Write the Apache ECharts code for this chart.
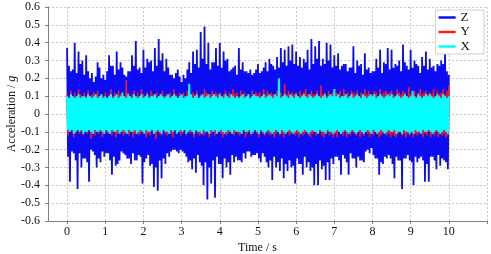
<!DOCTYPE html>
<html>
<head>
<meta charset="utf-8">
<script src="https://cdn.jsdelivr.net/npm/echarts@6/dist/echarts.min.js"></script>
<style>
  html, body { margin: 0; padding: 0; background: #fff; }
  #chart { width: 491px; height: 254px; }
</style>
</head>
<body>
<div id="chart"></div>
<script>
// sampling step of the record (s)
const dt = 0.025;

// Z axis acceleration (g)
const zAcc = [
  0.37,-0.24,0.27,-0.38, 0.24,-0.21,0.25,-0.22, 0.40,-0.26,0.23,-0.42, 0.35,-0.22,0.28,-0.30, 0.30,-0.25,0.22,-0.25,
  0.33,-0.27,0.24,-0.38, 0.20,-0.20,0.23,-0.21, 0.18,-0.23,0.21,-0.30, 0.29,-0.25,0.26,-0.27, 0.20,-0.21,0.22,-0.24,
  0.19,-0.22,0.24,-0.22, 0.33,-0.26,0.27,-0.34, 0.27,-0.24,0.22,-0.29, 0.35,-0.28,0.25,-0.26, 0.29,-0.21,0.26,-0.22,
  0.22,-0.23,0.21,-0.25, 0.24,-0.25,0.24,-0.28, 0.33,-0.22,0.27,-0.26, 0.41,-0.26,0.25,-0.23, 0.26,-0.24,0.23,-0.39,
  0.36,-0.27,0.26,-0.25, 0.31,-0.23,0.29,-0.29, 0.30,-0.28,0.24,-0.41, 0.37,-0.30,0.27,-0.43, 0.42,-0.26,0.30,-0.36,
  0.34,-0.25,0.24,-0.28, 0.31,-0.22,0.26,-0.24, 0.22,-0.21,0.22,-0.20, 0.20,-0.20,0.23,-0.21, 0.25,-0.22,0.21,-0.20,
  0.18,-0.21,0.22,-0.22, 0.20,-0.24,0.25,-0.27, 0.29,-0.26,0.23,-0.31, 0.35,-0.25,0.28,-0.33, 0.36,-0.23,0.26,-0.27,
  0.46,-0.29,0.31,-0.40, 0.49,-0.27,0.28,-0.48, 0.40,-0.30,0.25,-0.39, 0.29,-0.26,0.29,-0.47, 0.37,-0.24,0.27,-0.28,
  0.40,-0.28,0.26,-0.36, 0.35,-0.25,0.30,-0.30, 0.31,-0.27,0.24,-0.34, 0.25,-0.23,0.26,-0.27, 0.27,-0.24,0.22,-0.26,
  0.37,-0.26,0.25,-0.27, 0.29,-0.22,0.24,-0.25, 0.24,-0.21,0.23,-0.21, 0.25,-0.24,0.22,-0.23, 0.23,-0.23,0.25,-0.22,
  0.28,-0.25,0.23,-0.27, 0.24,-0.22,0.26,-0.24, 0.29,-0.27,0.24,-0.30, 0.31,-0.26,0.28,-0.37, 0.27,-0.24,0.25,-0.30,
  0.32,-0.27,0.26,-0.32, 0.37,-0.25,0.29,-0.36, 0.36,-0.28,0.27,-0.32, 0.38,-0.26,0.30,-0.30, 0.39,-0.29,0.28,-0.39,
  0.35,-0.25,0.27,-0.28, 0.32,-0.28,0.26,-0.34, 0.31,-0.24,0.29,-0.30, 0.36,-0.27,0.25,-0.32, 0.42,-0.30,0.28,-0.40,
  0.38,-0.28,0.31,-0.40, 0.41,-0.26,0.27,-0.31, 0.31,-0.29,0.28,-0.37, 0.40,-0.27,0.30,-0.37, 0.39,-0.25,0.26,-0.28,
  0.33,-0.24,0.27,-0.24, 0.34,-0.26,0.25,-0.34, 0.27,-0.23,0.28,-0.25, 0.28,-0.27,0.24,-0.34, 0.26,-0.22,0.26,-0.25,
  0.38,-0.25,0.23,-0.30, 0.30,-0.24,0.27,-0.26, 0.28,-0.26,0.22,-0.27, 0.34,-0.21,0.25,-0.20, 0.26,-0.22,0.23,-0.19,
  0.24,-0.23,0.24,-0.25, 0.31,-0.25,0.26,-0.34, 0.36,-0.27,0.23,-0.28, 0.29,-0.24,0.28,-0.25, 0.37,-0.23,0.25,-0.25,
  0.36,-0.28,0.26,-0.36, 0.28,-0.24,0.27,-0.26, 0.30,-0.26,0.24,-0.42, 0.39,-0.25,0.29,-0.25, 0.27,-0.23,0.25,-0.26,
  0.36,-0.27,0.26,-0.40, 0.30,-0.24,0.28,-0.27, 0.27,-0.25,0.23,-0.24, 0.32,-0.26,0.27,-0.38, 0.35,-0.28,0.25,-0.38,
  0.31,-0.24,0.26,-0.24, 0.27,-0.26,0.24,-0.31, 0.28,-0.23,0.27,-0.29, 0.30,-0.25,0.28,-0.26, 0.35,-0.27,0.24,-0.31,
  0.22
];

// Y axis acceleration (g)
const yAcc = [
  0.11,-0.12,0.09,-0.10,0.13,-0.09,0.10,-0.13,0.12,-0.11,0.09,-0.08,0.14,-0.11,0.11,-0.10,0.08,-0.12,0.12,-0.09,
  0.10,-0.11,0.13,-0.09,0.09,-0.14,0.11,-0.10,0.12,-0.12,0.10,-0.09,0.13,-0.11,0.08,-0.10,0.11,-0.13,0.10,-0.11,
  0.12,-0.09,0.09,-0.11,0.11,-0.10,0.14,-0.12,0.10,-0.09,0.12,-0.13,0.09,-0.11,0.13,-0.10,0.11,-0.09,0.10,-0.12,
  0.09,-0.11,0.19,-0.10,0.12,-0.12,0.10,-0.09,0.11,-0.13,0.13,-0.11,0.09,-0.10,0.12,-0.12,0.10,-0.11,0.14,-0.09,
  0.11,-0.10,0.09,-0.13,0.12,-0.11,0.10,-0.12,0.13,-0.09,0.11,-0.11,0.09,-0.14,0.12,-0.10,0.10,-0.11,0.11,-0.12,
  0.13,-0.09,0.10,-0.11,0.11,-0.12,0.09,-0.10,0.12,-0.11,0.10,-0.13,0.14,-0.09,0.11,-0.11,0.09,-0.10,0.12,-0.12,
  0.10,-0.11,0.12,-0.09,0.09,-0.12,0.13,-0.10,0.11,-0.11,0.10,-0.09,0.12,-0.13,0.11,-0.10,0.13,-0.11,0.09,-0.12,
  0.11,-0.10,0.10,-0.12,0.14,-0.11,0.12,-0.09,0.10,-0.13,0.11,-0.11,0.13,-0.10,0.09,-0.12,0.12,-0.11,0.11,-0.09,
  0.12,-0.11,0.10,-0.13,0.11,-0.10,0.13,-0.12,0.09,-0.11,0.12,-0.09,0.10,-0.11,0.14,-0.12,0.11,-0.10,0.12,-0.11,
  0.10,-0.12,0.13,-0.11,0.11,-0.09,0.12,-0.13,0.10,-0.11,0.11,-0.10,0.09,-0.12,0.13,-0.11,0.10,-0.09,0.12,-0.11,
  0.11,-0.13,0.12,-0.10,0.10,-0.11,0.14,-0.12,0.11,-0.09,0.13,-0.11,0.10,-0.12,0.12,-0.10,0.11,-0.13,0.09,-0.11,
  0.13,-0.10,0.11,-0.12,0.12,-0.11,0.10,-0.13,0.17,-0.11,0.11,-0.10,0.13,-0.12,0.10,-0.11,0.12,-0.09,0.11,-0.12,
  0.12,-0.11,0.10,-0.13,0.13,-0.10,0.11,-0.12,0.12,-0.11,0.14,-0.10,0.11,-0.12,0.10,-0.13,0.13,-0.11,0.11,-0.10,
  0.11,-0.12,0.13,-0.11,0.10,-0.10,0.16,-0.12,0.11,-0.13,0.12,-0.11,0.10,-0.10,0.13,-0.12,0.11,-0.11,0.12,-0.13,
  0.10,-0.11,0.12,-0.13,0.11,-0.10,0.13,-0.11,0.10,-0.12,0.14,-0.10,0.11,-0.13,0.12,-0.11,0.10,-0.12,0.13,-0.10,
  0.12,-0.11,0.11,-0.12,0.13,-0.10,0.10,-0.13,0.12,-0.11,0.11,-0.12,0.14,-0.10,0.11,-0.11,0.13,-0.13,0.10,-0.11,
  0.11,-0.12,0.13,-0.10,0.12,-0.11,0.10,-0.13,0.14,-0.12,0.11,-0.11,0.12,-0.10,0.13,-0.12,0.10,-0.11,0.12,-0.13,
  0.13,-0.11,0.11,-0.12,0.10,-0.13,0.14,-0.11,0.12,-0.10,0.11,-0.12,0.13,-0.11,0.12,-0.13,0.10,-0.11,0.15,-0.12,
  0.11,-0.10,0.12,-0.13,0.13,-0.11,0.10,-0.12,0.12,-0.11,0.14,-0.10,0.11,-0.13,0.12,-0.11,0.13,-0.12,0.11,-0.10,
  0.12,-0.13,0.11,-0.11,0.14,-0.12,0.10,-0.10,0.13,-0.13,0.11,-0.11,0.12,-0.12,0.14,-0.11,0.11,-0.13,0.13,-0.12,
  0.16
];

// X axis acceleration (g)
const xAcc = [
  0.10,-0.09,0.09,-0.10,0.11,-0.09,0.10,-0.11,0.09,-0.10,0.10,-0.09,0.11,-0.10,0.09,-0.09,0.10,-0.11,0.10,-0.10,
  0.09,-0.10,0.11,-0.09,0.10,-0.10,0.09,-0.11,0.10,-0.09,0.11,-0.10,0.09,-0.10,0.10,-0.09,0.11,-0.10,0.09,-0.11,
  0.10,-0.09,0.09,-0.10,0.10,-0.11,0.11,-0.09,0.09,-0.10,0.10,-0.10,0.11,-0.09,0.09,-0.11,0.10,-0.10,0.12,-0.09,
  0.10,-0.10,0.09,-0.11,0.11,-0.09,0.10,-0.10,0.09,-0.10,0.11,-0.09,0.10,-0.11,0.09,-0.10,0.10,-0.09,0.11,-0.10,
  0.09,-0.11,0.10,-0.09,0.11,-0.10,0.09,-0.10,0.10,-0.09,0.10,-0.11,0.11,-0.10,0.09,-0.09,0.10,-0.10,0.11,-0.11,
  0.10,-0.09,0.09,-0.10,0.10,-0.10,0.11,-0.11,0.09,-0.09,0.10,-0.10,0.11,-0.09,0.10,-0.11,0.09,-0.10,0.10,-0.09,
  0.11,-0.10,0.09,-0.09,0.10,-0.11,0.10,-0.10,0.17,-0.09,0.11,-0.10,0.09,-0.11,0.10,-0.09,0.11,-0.10,0.09,-0.10,
  0.10,-0.11,0.11,-0.09,0.09,-0.10,0.10,-0.10,0.11,-0.11,0.09,-0.09,0.10,-0.10,0.11,-0.09,0.10,-0.11,0.09,-0.10,
  0.11,-0.09,0.10,-0.10,0.09,-0.11,0.11,-0.10,0.10,-0.09,0.09,-0.10,0.11,-0.11,0.10,-0.09,0.09,-0.10,0.10,-0.10,
  0.09,-0.10,0.10,-0.11,0.11,-0.09,0.09,-0.10,0.10,-0.10,0.11,-0.09,0.09,-0.11,0.10,-0.10,0.11,-0.09,0.10,-0.10,
  0.10,-0.11,0.09,-0.09,0.10,-0.10,0.11,-0.11,0.09,-0.10,0.10,-0.09,0.11,-0.10,0.10,-0.11,0.09,-0.10,0.11,-0.09,
  0.10,-0.10,0.20,-0.11,0.09,-0.09,0.10,-0.10,0.11,-0.11,0.10,-0.10,0.09,-0.09,0.11,-0.10,0.10,-0.11,0.09,-0.10,
  0.11,-0.09,0.10,-0.10,0.09,-0.11,0.10,-0.10,0.11,-0.09,0.10,-0.10,0.09,-0.11,0.11,-0.10,0.10,-0.09,0.09,-0.10,
  0.10,-0.10,0.11,-0.11,0.10,-0.09,0.09,-0.10,0.10,-0.10,0.11,-0.11,0.09,-0.09,0.10,-0.10,0.11,-0.10,0.10,-0.11,
  0.14,-0.10,0.10,-0.09,0.11,-0.10,0.09,-0.11,0.10,-0.10,0.10,-0.09,0.11,-0.10,0.09,-0.11,0.10,-0.10,0.11,-0.09,
  0.09,-0.10,0.10,-0.11,0.11,-0.10,0.10,-0.09,0.09,-0.10,0.11,-0.11,0.10,-0.10,0.09,-0.09,0.10,-0.10,0.11,-0.11,
  0.10,-0.09,0.11,-0.10,0.09,-0.11,0.10,-0.10,0.11,-0.09,0.10,-0.10,0.09,-0.11,0.10,-0.10,0.11,-0.09,0.10,-0.10,
  0.11,-0.10,0.09,-0.09,0.10,-0.11,0.11,-0.10,0.10,-0.10,0.09,-0.11,0.10,-0.09,0.11,-0.10,0.10,-0.10,0.09,-0.11,
  0.10,-0.10,0.13,-0.11,0.10,-0.09,0.09,-0.10,0.11,-0.10,0.10,-0.11,0.09,-0.09,0.10,-0.10,0.11,-0.10,0.10,-0.09,
  0.11,-0.10,0.10,-0.11,0.09,-0.10,0.10,-0.09,0.11,-0.10,0.10,-0.11,0.09,-0.10,0.11,-0.09,0.10,-0.10,0.09,-0.11,
  0.10
];

const xTickValues = [0, 1, 2, 3, 4, 5, 6, 7, 8, 9, 10, 11];
const xLabelValues = [0, 1, 2, 3, 4, 5, 6, 7, 8, 9, 10];

const serif = 'Liberation Serif, Times New Roman, serif';

// [time, value] pairs for the value x axis
const withTime = (arr) => arr.map((v, i) => [Number((i * dt).toFixed(3)), v]);

const myChart = echarts.init(document.getElementById('chart'), null, { renderer: 'canvas' });

const lineSeries = (name, data, color, width) => ({
  name: name,
  type: 'line',
  data: withTime(data),
  showSymbol: false,
  symbol: 'none',
  animation: false,
  lineStyle: { color: color, width: width },
  itemStyle: { color: color },
});

const option = {
  animation: false,
  backgroundColor: '#fff',
  grid: {
    left: 48,
    right: 4,
    top: 7,
    bottom: 33,
    containLabel: false,
    outerBoundsMode: 'none',
  },
  legend: {
    data: ['Z', 'Y', 'X'],
    orient: 'vertical',
    right: 7,
    top: 10,
    icon: 'rect',
    itemWidth: 17,
    itemHeight: 2.5,
    itemGap: 1.5,
    itemTextGap: 9,
    padding: [1, 14, 1, 3],
    backgroundColor: '#fff',
    borderColor: '#d0d0d0',
    borderWidth: 1,
    borderRadius: 0,
    textStyle: { fontFamily: serif, fontSize: 13, color: '#111', lineHeight: 12 },
  },
  xAxis: {
    type: 'value',
    min: -0.5,
    max: 11,
    name: 'Time / s',
    nameLocation: 'middle',
    nameGap: 21,
    nameMoveOverlap: false,
    nameTextStyle: { fontFamily: serif, fontSize: 12, color: '#111', padding: [0, 20, 0, 0] },
    axisLine: { show: true, onZero: false, lineStyle: { color: '#808080', width: 1 } },
    axisTick: { show: true, length: 3, customValues: xTickValues, lineStyle: { color: '#808080' } },
    axisLabel: {
      customValues: xLabelValues,
      fontFamily: serif,
      fontSize: 12,
      color: '#111',
      margin: 5,
    },
    splitLine: { show: true, lineStyle: { color: '#c8c8c8', type: [2, 2], width: 1 } },
  },
  yAxis: {
    type: 'value',
    min: -0.6,
    max: 0.6,
    interval: 0.1,
    name: 'Acceleration / {i|g}',
    nameLocation: 'middle',
    nameGap: 30,
    nameMoveOverlap: false,
    nameTextStyle: {
      fontFamily: serif,
      fontSize: 12,
      color: '#111',
      rich: { i: { fontStyle: 'italic', fontFamily: serif, fontSize: 12, color: '#111' } },
    },
    axisLine: { show: true, onZero: false, lineStyle: { color: '#808080', width: 1 } },
    axisTick: { show: true, length: 3, lineStyle: { color: '#808080' } },
    axisLabel: {
      fontFamily: serif,
      fontSize: 12,
      color: '#111',
      margin: 8,
      formatter: (v) => String(Math.round(v * 10) / 10),
    },
    splitLine: { show: true, lineStyle: { color: '#c8c8c8', type: [2, 2], width: 1 } },
  },
  series: [
    lineSeries('Z', zAcc, '#0c0cf2', 1.8),
    lineSeries('Y', yAcc, '#ff1a1a', 1.5),
    lineSeries('X', xAcc, '#00ffff', 2),
  ],
};

option && myChart.setOption(option);
</script>
</body>
</html>
